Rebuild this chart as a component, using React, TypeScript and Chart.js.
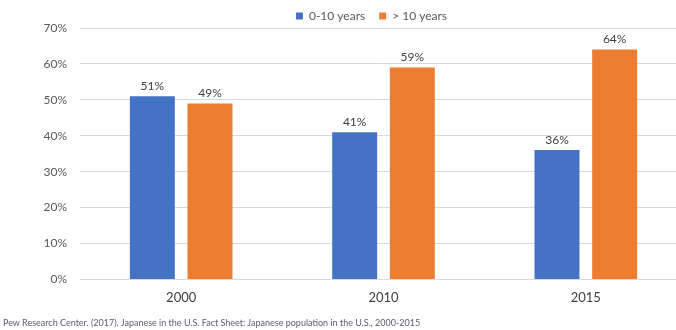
import React, { useEffect, useRef } from "react";
import { Chart, registerables } from "chart.js";

Chart.register(...registerables);

const categories = ["2000", "2010", "2015"];
const seriesNames = ["0-10 years", "> 10 years"];
const shortStay = [51, 41, 36];
const longStay = [49, 59, 64];
const yTicks = [0, 10, 20, 30, 40, 50, 60, 70];
const footnote =
  "Pew Research Center. (2017). Japanese in the U.S. Fact Sheet: Japanese population in the U.S., 2000-2015";

const FONT = "Lato, 'Open Sans', sans-serif";

const valueLabels = {
  id: "valueLabels",
  afterDatasetsDraw(chart: any) {
    const ctx = chart.ctx;
    ctx.save();
    ctx.font = `12px ${FONT}`;
    ctx.fillStyle = "#404040";
    ctx.textAlign = "center";
    ctx.textBaseline = "bottom";
    chart.data.datasets.forEach((ds: any, i: number) => {
      const meta = chart.getDatasetMeta(i);
      meta.data.forEach((bar: any, j: number) => {
        ctx.fillText(`${ds.data[j]}%`, bar.x, bar.y - 4);
      });
    });
    ctx.restore();
  },
};

const legendShift = {
  id: "legendShift",
  afterLayout(chart: any) {
    const lg = chart.legend;
    if (lg) {
      lg.left += 28;
      lg.right += 28;
    }
  },
};

export default function App() {
  const ref = useRef<HTMLCanvasElement | null>(null);
  useEffect(() => {
    if (!ref.current) return;
    const chart = new Chart(ref.current, {
      type: "bar",
      data: {
        labels: categories,
        datasets: [
          {
            label: seriesNames[0],
            data: shortStay,
            backgroundColor: "#4472C4",
            categoryPercentage: 0.57,
            barPercentage: 0.78,
          },
          {
            label: seriesNames[1],
            data: longStay,
            backgroundColor: "#ED7D31",
            categoryPercentage: 0.57,
            barPercentage: 0.78,
          },
        ],
      },
      options: {
        animation: false,
        responsive: false,
        maintainAspectRatio: false,
        layout: { padding: { top: -4, bottom: 13, left: 0, right: 0 } },
        plugins: {
          legend: {
            position: "top",
            maxHeight: 32,
            labels: {
              boxWidth: 7,
              boxHeight: 7,
              padding: 14,
              color: "#595959",
              font: { family: FONT, size: 12 },
            },
          },
          tooltip: { enabled: false },
        },
        scales: {
          x: {
            grid: { display: false, drawTicks: false },
            border: { display: false },
            ticks: {
              color: "#404040",
              font: { family: FONT, size: 13 },
              padding: 11,
            },
          },
          y: {
            min: 0,
            max: 70,
            afterBuildTicks: (s: any) => {
              s.ticks = yTicks.map((v) => ({ value: v }));
            },
            afterFit: (s: any) => {
              s.width = 80;
            },
            grid: { color: "#d9d9d9", drawTicks: false },
            border: { display: false },
            ticks: {
              color: "#595959",
              font: { family: FONT, size: 12 },
              padding: 13,
              callback: (v: any) => `${v}%`,
            },
          },
        },
      },
      plugins: [valueLabels, legendShift],
    });
    return () => chart.destroy();
  }, []);

  return (
    <div
      style={{
        position: "absolute",
        left: 0,
        top: 0,
        width: 676,
        height: 330,
        overflow: "hidden",
        background: "#fff",
      }}
    >
      <canvas ref={ref} width={687} height={330} style={{ display: "block" }} />
      <div
        style={{
          position: "absolute",
          left: 3,
          top: 317,
          fontFamily: FONT,
          fontSize: 9,
          color: "#596070",
          whiteSpace: "nowrap",
        }}
      >
        {footnote}
      </div>
    </div>
  );
}
